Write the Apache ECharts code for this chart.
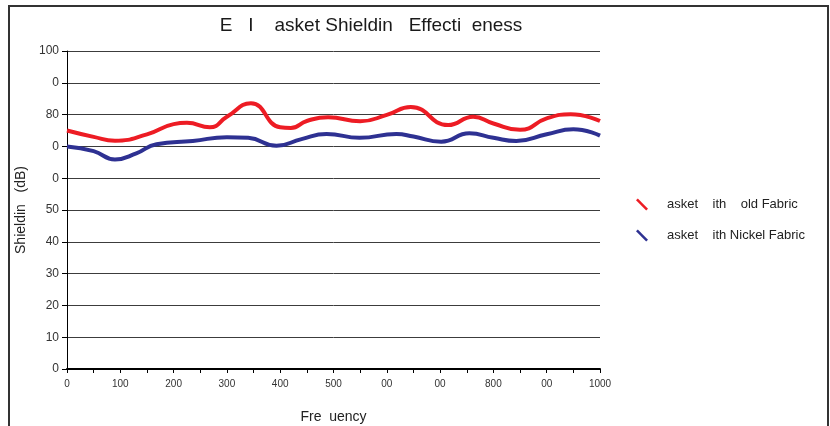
<!DOCTYPE html>
<html>
<head>
<meta charset="utf-8">
<script src="https://cdn.jsdelivr.net/npm/echarts@6/dist/echarts.min.js"></script>
<style>
html,body{margin:0;padding:0;background:#fff;}
#c{width:830px;height:426px;}
</style>
</head>
<body>
<div id="c"></div>
<script>
// ---- data ----
const titleText = 'E   I    asket Shieldin   Effecti  eness';
const xName = 'Fre  uency';
const yName = 'Shieldin   (dB)';
const seriesNames = ['asket    ith    old Fabric', 'asket    ith Nickel Fabric'];
const xTickLabels = ['0','100','200','300','400','500','00','00','800','00','1000'];
const yTickLabels = ['0','10','20','30','40','50','0','0','80','0','100'];

const goldFreq = [0, 50, 90, 150, 200, 225, 268, 300, 345, 400, 420, 450, 490, 550, 600, 645, 715, 762, 800, 850, 900, 945, 1000];
const goldDb   = [75.0, 73.0, 71.8, 73.8, 77.0, 77.4, 76.0, 79.3, 83.6, 76.0, 75.8, 78.0, 79.2, 77.9, 79.9, 82.4, 76.7, 79.3, 77.2, 75.2, 78.8, 80.1, 78.0];

const nickelFreq = [0, 50, 90, 130, 168, 236, 300, 340, 393, 440, 487, 549, 618, 650, 702, 755, 800, 843, 900, 950, 1000];
const nickelDb   = [70.0, 68.5, 65.9, 67.8, 70.7, 71.7, 72.9, 72.7, 70.2, 72.3, 73.9, 72.7, 73.9, 73.1, 71.5, 74.1, 72.7, 71.7, 73.8, 75.4, 73.4];

const colors = ['#ED1C24', '#2E3192'];

const zip = (xs, ys) => xs.map((x, i) => [x, ys[i]]);
const FONT = "'Liberation Sans', Arial, Helvetica, sans-serif";

const chart = echarts.init(document.getElementById('c'), null, {renderer: 'canvas'});
chart.setOption({
  animation: false,
  backgroundColor: '#fff',
  textStyle: {fontFamily: FONT},
  graphic: [{
    type: 'rect', silent: true, z: -10,
    shape: {x: 9, y: 6, width: 819, height: 440},
    style: {fill: 'none', stroke: '#333', lineWidth: 2}
  }],
  title: {
    text: titleText,
    left: 366, top: 11, textAlign: 'center',
    textStyle: {fontFamily: FONT, fontSize: 19, fontWeight: 'normal', color: '#1a1a1a'}
  },
  legend: {
    orient: 'vertical',
    left: 636, top: 198, padding: 0,
    itemWidth: 12, itemHeight: 12, itemGap: 18,
    textStyle: {fontFamily: FONT, fontSize: 13, color: '#222', padding: [0, 0, 0, 14]},
    data: seriesNames.map(n => ({name: n, icon: 'path://M0,1.8 L1.8,0 L12,10.2 L10.2,12 Z'}))
  },
  grid: {left: 67, right: 230, top: 51, bottom: 57, containLabel: false, outerBoundsMode: 'none'},
  xAxis: {
    type: 'value', min: 0, max: 1000, interval: 50,
    name: xName, nameLocation: 'middle', nameGap: 41,
    nameTextStyle: {fontFamily: FONT, fontSize: 14, color: '#222'},
    axisLine: {show: true, lineStyle: {color: '#000', width: 2}},
    axisTick: {show: true, length: 4, lineStyle: {color: '#000', width: 1}},
    axisLabel: {
      fontFamily: FONT, fontSize: 10, color: '#333', margin: 10,
      formatter: v => (v % 100 === 0 ? xTickLabels[v / 100] : '')
    },
    splitLine: {show: false}
  },
  yAxis: {
    type: 'value', min: 0, max: 100, interval: 10,
    name: yName, nameLocation: 'middle', nameGap: 35,
    nameTextStyle: {fontFamily: FONT, fontSize: 14, color: '#222'},
    axisLine: {show: true, lineStyle: {color: '#000', width: 1}},
    axisTick: {show: true, length: 5, lineStyle: {color: '#000'}},
    axisLabel: {
      fontFamily: FONT, fontSize: 12, color: '#333', margin: 8,
      formatter: v => yTickLabels[Math.round(v / 10)]
    },
    splitLine: {show: true, lineStyle: {color: '#3c3c3c', width: 1}}
  },
  series: [
    {
      name: seriesNames[0], type: 'line', smooth: 0.5, showSymbol: false,
      data: zip(goldFreq, goldDb), color: colors[0],
      lineStyle: {width: 4, color: colors[0]}
    },
    {
      name: seriesNames[1], type: 'line', smooth: 0.5, showSymbol: false,
      data: zip(nickelFreq, nickelDb), color: colors[1],
      lineStyle: {width: 4, color: colors[1]}
    }
  ]
});
</script>
</body>
</html>
